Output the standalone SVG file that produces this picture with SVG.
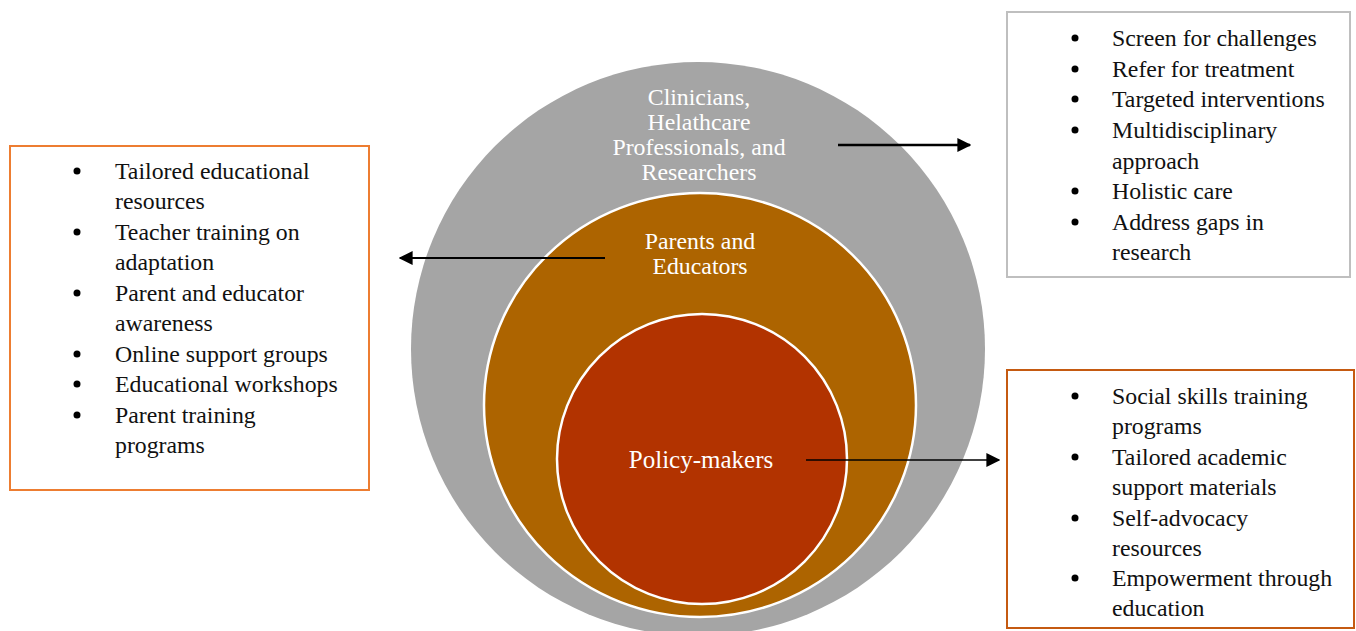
<svg xmlns="http://www.w3.org/2000/svg" width="1356" height="631" viewBox="0 0 1356 631">
<defs>
<style>
.lbl{font-family:"Liberation Serif","Times New Roman",serif;font-size:23.8px;fill:#ffffff;text-anchor:middle}
.li{font-family:"Liberation Serif","Times New Roman",serif;font-size:23.8px;fill:#111111}
.bul{fill:#000000}
.conn{stroke:#000000;fill:none}
</style>
<marker id="ah2" viewBox="0 0 10 10" refX="9" refY="5" markerWidth="14" markerHeight="14" markerUnits="userSpaceOnUse" orient="auto">
<path d="M0,0 L10,5 L0,10 z" fill="#000"/>
</marker>
</defs>
<rect width="1356" height="631" fill="#ffffff"/>
<g id="outer">
<circle cx="698" cy="349" r="287" fill="#a5a5a5"/>
<text class="lbl" x="699" y="105">Clinicians,</text>
<text class="lbl" x="699" y="130">Helathcare</text>
<text class="lbl" x="699" y="155">Professionals, and</text>
<text class="lbl" x="699" y="180">Researchers</text>
</g>
<g id="middle">
<ellipse cx="700" cy="405" rx="216" ry="212" fill="#ad6400" stroke="#ffffff" stroke-width="2.5"/>
<text class="lbl" x="700" y="249">Parents and</text>
<text class="lbl" x="700" y="274">Educators</text>
</g>
<g id="inner">
<circle cx="702" cy="459" r="145" fill="#b23300" stroke="#ffffff" stroke-width="2.5"/>
<text class="lbl" x="701" y="468" style="font-size:25px">Policy-makers</text>
</g>
<g id="connectors">
<line class="conn" x1="838" y1="145" x2="970" y2="145" stroke-width="2.5" marker-end="url(#ah2)"/>
<line class="conn" x1="605" y1="258" x2="400" y2="258" stroke-width="2" marker-end="url(#ah2)"/>
<line class="conn" x1="806" y1="460" x2="999" y2="460" stroke-width="1.5" marker-end="url(#ah2)"/>
</g>
<g id="box-left">
<rect x="10" y="146" width="359" height="344" fill="#ffffff" stroke="#ed7d31" stroke-width="2"/>
<g class="bul"><circle cx="77" cy="171" r="3.5"/><circle cx="77" cy="232" r="3.5"/><circle cx="77" cy="293" r="3.5"/><circle cx="77" cy="354" r="3.5"/><circle cx="77" cy="384" r="3.5"/><circle cx="77" cy="415" r="3.5"/></g>
<text class="li" x="115" y="179">Tailored educational</text>
<text class="li" x="115" y="209">resources</text>
<text class="li" x="115" y="240">Teacher training on</text>
<text class="li" x="115" y="270">adaptation</text>
<text class="li" x="115" y="301">Parent and educator</text>
<text class="li" x="115" y="331">awareness</text>
<text class="li" x="115" y="362">Online support groups</text>
<text class="li" x="115" y="392">Educational workshops</text>
<text class="li" x="115" y="423">Parent training</text>
<text class="li" x="115" y="453">programs</text>
</g>
<g id="box-top-right">
<rect x="1007" y="12" width="343" height="265" fill="#ffffff" stroke="#bfbfbf" stroke-width="2"/>
<g class="bul"><circle cx="1075" cy="38" r="3.5"/><circle cx="1075" cy="69" r="3.5"/><circle cx="1075" cy="99" r="3.5"/><circle cx="1075" cy="130" r="3.5"/><circle cx="1075" cy="191" r="3.5"/><circle cx="1075" cy="222" r="3.5"/></g>
<text class="li" x="1112" y="46">Screen for challenges</text>
<text class="li" x="1112" y="77">Refer for treatment</text>
<text class="li" x="1112" y="107">Targeted interventions</text>
<text class="li" x="1112" y="138">Multidisciplinary</text>
<text class="li" x="1112" y="169">approach</text>
<text class="li" x="1112" y="199">Holistic care</text>
<text class="li" x="1112" y="230">Address gaps in</text>
<text class="li" x="1112" y="260">research</text>
</g>
<g id="box-bottom-right">
<rect x="1007" y="370" width="347" height="258" fill="#ffffff" stroke="#c55a11" stroke-width="2"/>
<g class="bul"><circle cx="1075" cy="396" r="3.5"/><circle cx="1075" cy="457" r="3.5"/><circle cx="1075" cy="518" r="3.5"/><circle cx="1075" cy="578" r="3.5"/></g>
<text class="li" x="1112" y="404">Social skills training</text>
<text class="li" x="1112" y="434">programs</text>
<text class="li" x="1112" y="465">Tailored academic</text>
<text class="li" x="1112" y="495">support materials</text>
<text class="li" x="1112" y="526">Self-advocacy</text>
<text class="li" x="1112" y="556">resources</text>
<text class="li" x="1112" y="586">Empowerment through</text>
<text class="li" x="1112" y="616">education</text>
</g>
</svg>
